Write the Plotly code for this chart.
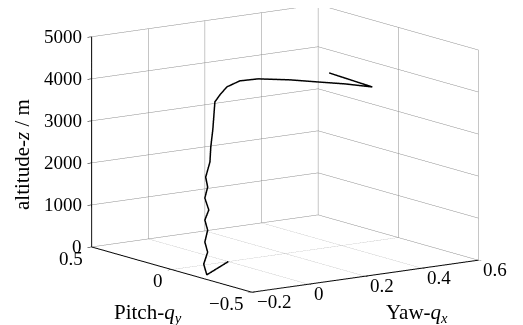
import plotly.graph_objects as go

# Trajectory data
yaw_qx = [0.000, -0.161, -0.172, -0.158, -0.168, -0.158, -0.168, -0.154, -0.168, -0.158,
          -0.165, -0.150, -0.130, -0.100, -0.059, -0.013, 0.040, 0.114, 0.184, 0.263,
          0.313, 0.356, 0.395, 0.401]
pitch_qy = [0.00, -0.15, -0.15, -0.15, -0.15, -0.15, -0.15, -0.15, -0.15, -0.15,
            -0.15, -0.15, -0.12, -0.08, -0.02, 0.03, 0.08, 0.13, 0.14, 0.08,
            0.00, -0.10, -0.20, 0.08]
altitude_z = [0, 0, 265, 537, 785, 1061, 1309, 1534, 1833, 2085,
              2329, 2673, 2979, 3336, 3875, 3945, 4031, 4050, 4020, 3986,
              3976, 3995, 3993, 4020]

x_ticks = [-0.2, 0, 0.2, 0.4, 0.6]
x_ticktext = ["\u22120.2", "0", "0.2", "0.4", "0.6"]
y_ticks = [-0.5, 0, 0.5]
y_ticktext = ["\u22120.5", "0", "0.5"]
z_ticks = [0, 1000, 2000, 3000, 4000, 5000]
z_ticktext = ["0", "1000", "2000", "3000", "4000", "5000"]

X_RANGE = [-0.2, 0.6]
Y_RANGE = [-0.5, 0.5]
Z_RANGE = [0, 5000]

FONT = "Liberation Serif, Times New Roman, serif"
TICKFONT = dict(family=FONT, size=19, color="black")
TITLEFONT = dict(family=FONT, size=21, color="black")

fig = go.Figure()
fig.add_trace(go.Scatter3d(
    x=yaw_qx, y=pitch_qy, z=altitude_z,
    mode="lines",
    line=dict(color="black", width=3),
    hoverinfo="skip",
    showlegend=False,
))

axis_common = dict(
    showbackground=False,
    showgrid=True,
    gridcolor="#8c8c8c",
    gridwidth=1,
    showline=True,
    linecolor="black",
    linewidth=2,
    ticks="outside",
    ticklen=5,
    tickcolor="black",
    showticklabels=False,
    showspikes=False,
    zeroline=False,
    title=dict(text=""),
)

scene_ann = []
for v, t in zip(z_ticks, z_ticktext):
    scene_ann.append(dict(x=X_RANGE[0], y=Y_RANGE[1], z=v, text=t, showarrow=False,
                          xanchor="right", yanchor="middle", xshift=-8, font=TICKFONT))
for v, t in zip(y_ticks, y_ticktext):
    scene_ann.append(dict(x=X_RANGE[0], y=v, z=Z_RANGE[0], text=t, showarrow=False,
                          xanchor="right", yanchor="top", xshift=-7, yshift=1, font=TICKFONT))
for v, t in zip(x_ticks, x_ticktext):
    scene_ann.append(dict(x=v, y=Y_RANGE[0], z=Z_RANGE[0], text=t, showarrow=False,
                          xanchor="left", yanchor="top", xshift=3, yshift=3, font=TICKFONT))

S = 1.875
D = 2.0
CZ = -0.052
dx = 8 / 523
fig.update_layout(
    width=523, height=325,
    margin=dict(l=0, r=0, t=0, b=0),
    paper_bgcolor="white",
    font=dict(family=FONT, color="black"),
    scene=dict(
        domain=dict(x=[0.09 - dx, 1 - dx], y=[0.09, 1]),
        xaxis=dict(range=X_RANGE, tickvals=x_ticks, **axis_common),
        yaxis=dict(range=Y_RANGE, tickvals=y_ticks, **axis_common),
        zaxis=dict(range=Z_RANGE, tickvals=z_ticks, **axis_common),
        aspectmode="manual",
        aspectratio=dict(x=1 * S, y=1 * S, z=0.773 * S),
        camera=dict(
            projection=dict(type="orthographic"),
            eye=dict(x=-0.566 * D, y=-0.800 * D, z=0.2 * D + CZ),
            up=dict(x=0, y=0, z=1),
            center=dict(x=0, y=0, z=CZ),
        ),
        bgcolor="white",
        annotations=scene_ann,
    ),
    annotations=[
        dict(text="altitude-<i>z</i> / m", x=14 / 523, y=1 - 147 / 325, xref="paper", yref="paper",
             xanchor="center", yanchor="middle",
             showarrow=False, textangle=-90, font=TITLEFONT),
        dict(text="Pitch-<i>q<sub>y</sub></i>", x=140 / 523, y=1 - 305 / 325, xref="paper", yref="paper",
             xanchor="center", yanchor="middle", showarrow=False, font=TITLEFONT),
        dict(text="Yaw-<i>q<sub>x</sub></i>", x=409 / 523, y=1 - 305 / 325, xref="paper", yref="paper",
             xanchor="center", yanchor="middle", showarrow=False, font=TITLEFONT),
    ],
)

fig.write_html("out.html")
